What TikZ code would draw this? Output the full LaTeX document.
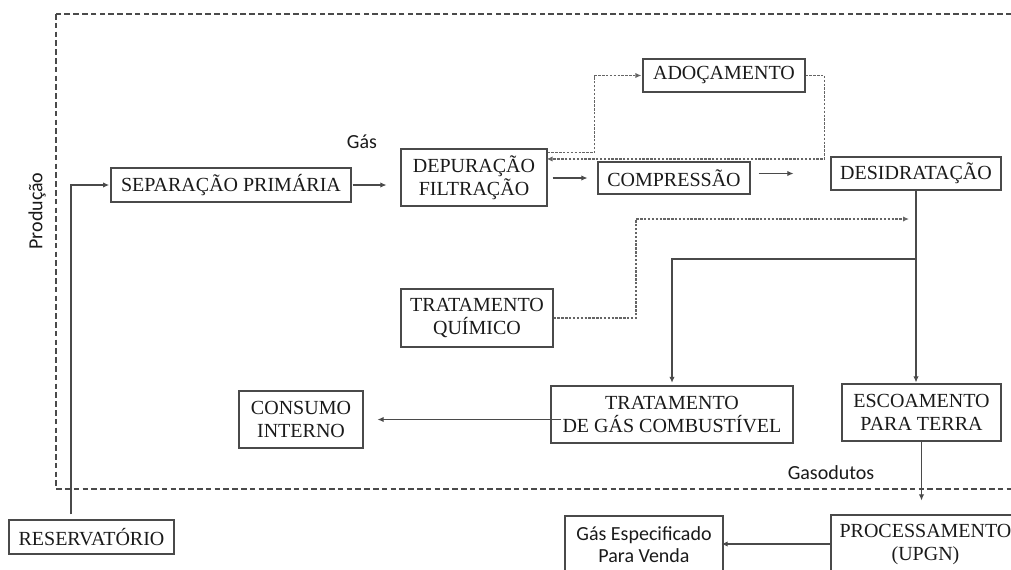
\documentclass[tikz,border=0pt]{standalone}
\usepackage{fontspec}
\setmainfont{Liberation Serif}
\newfontfamily\rotulo{Carlito}
\usetikzlibrary{arrows.meta}
\definecolor{traco}{HTML}{4A4A4A}
\definecolor{texto}{HTML}{1A1A1A}
\tikzset{
  caixa/.style={draw=traco, line width=0.85pt, inner sep=0pt, align=center, text=texto,
                font=\fontsize{15}{17.25}\selectfont},
  fluxo/.style={draw=traco, line width=0.8pt, -{Latex[length=4.5pt,width=4pt]}},
  pontilhado/.style={fluxo, draw=traco!85, line width=0.9pt, dash pattern=on 1.8pt off 1.1pt},
  legenda/.style={text=texto, font=\rotulo\fontsize{15}{16.5}\selectfont, align=center}
}

\begin{document}
\begin{tikzpicture}[x=0.75pt, y=-0.75pt]
    \useasboundingbox (0,0) rectangle (1011,569);

    % area de producao
    \draw [traco, line width=0.8pt, dash pattern=on 4.2pt off 2.4pt] (56,14) rectangle (1040,489);
    \node [legenda, rotate=90] (prod) at (37,211) {Produção};
    \node [legenda]            (gas)  at (362,142) {Gás};
    \node [legenda]            (duto) at (831,473) {Gasodutos};

    % etapas
    \node [caixa, minimum width=180pt,    minimum height=25.5pt]  (sep)   at (231,185)     {SEPARAÇÃO PRIMÁRIA};
    \node [caixa, minimum width=109.5pt,  minimum height=42.75pt] (dep)   at (474,177.5)   {DEPURAÇÃO\\FILTRAÇÃO};
    \node [caixa, minimum width=121.5pt,  minimum height=24.75pt] (adoc)  at (724,75.5)    {ADOÇAMENTO};
    \node [caixa, minimum width=114pt,    minimum height=24pt]    (comp)  at (674,178)     {COMPRESSÃO};
    \node [caixa, minimum width=127.5pt,  minimum height=24.75pt] (desid) at (916,173.5)   {DESIDRATAÇÃO};
    \node [caixa, minimum width=114pt,    minimum height=43.5pt]  (tquim) at (477,318)     {TRATAMENTO\\QUÍMICO};
    \node [caixa, minimum width=181.5pt,  minimum height=42.75pt] (tgas)  at (672,414.5)   {TRATAMENTO\\DE GÁS COMBUSTÍVEL};
    \node [caixa, minimum width=119.25pt, minimum height=42.75pt] (esco)  at (921.5,412.5) {ESCOAMENTO\\PARA TERRA};
    \node [caixa, minimum width=93pt,     minimum height=42.75pt] (cons)  at (301,419.5)   {CONSUMO\\INTERNO};
    \node [caixa, minimum width=123.75pt, minimum height=25.5pt]  (res)   at (91.5,537)    {RESERVATÓRIO};
    \node [caixa, minimum width=118.5pt,  minimum height=43.5pt, font=\rotulo\fontsize{15}{16.5}\selectfont]
                                                                  (venda) at (644,545)     {Gás Especificado\\Para Venda};
    \node [caixa, minimum width=141.75pt, minimum height=43.5pt]  (proc)  at (925.5,544)   {PROCESSAMENTO\\(UPGN)};

    \coordinate (ramo)    at (916,259);
    \coordinate (dobra)   at (636,219);
    \coordinate (entrada) at (909,219);

    % fluxo principal
    \draw [fluxo, shorten <=3.75pt, shorten >=1pt] ([xshift=-15.4pt]res.north) |- (sep.west);
    \draw [fluxo, shorten <=0.75pt, shorten >=10.5pt] (sep.east) -- (sep.east -| dep.west);
    \draw [fluxo, shorten <=3.75pt, shorten >=7.5pt]  (dep.east |- comp.west) -- (comp.west);
    \draw [fluxo, shorten <=6pt, shorten >=27.75pt]   (comp.east |- desid.west) -- (desid.west);
    \draw [fluxo, shorten >=0.75pt] (desid.south) -- (desid.south |- esco.north);
    \draw [fluxo, shorten >=2pt]    (ramo) -| (tgas.north);
    \draw [fluxo, shorten <=-8.25pt, shorten >=10.5pt] (tgas.west |- cons.east) -- (cons.east);
    \draw [fluxo, shorten >=10.5pt] (esco.south) -- (esco.south |- proc.north);
    \draw [fluxo, shorten >=-1.5pt] (proc.west) -- (proc.west -| venda.east);

    % desvios pontilhados
    \draw [pontilhado, shorten >=0.75pt] ([yshift=-3pt]dep.north east) -- ++(47,0) |- (adoc.west);
    \draw [pontilhado, shorten >=-0.75pt] (adoc.east) -- ++(19,0) |- ([yshift=13.9pt]dep.east);
    \draw [pontilhado] (tquim.east) -| (dobra) -- (entrada);
\end{tikzpicture}
\end{document}
